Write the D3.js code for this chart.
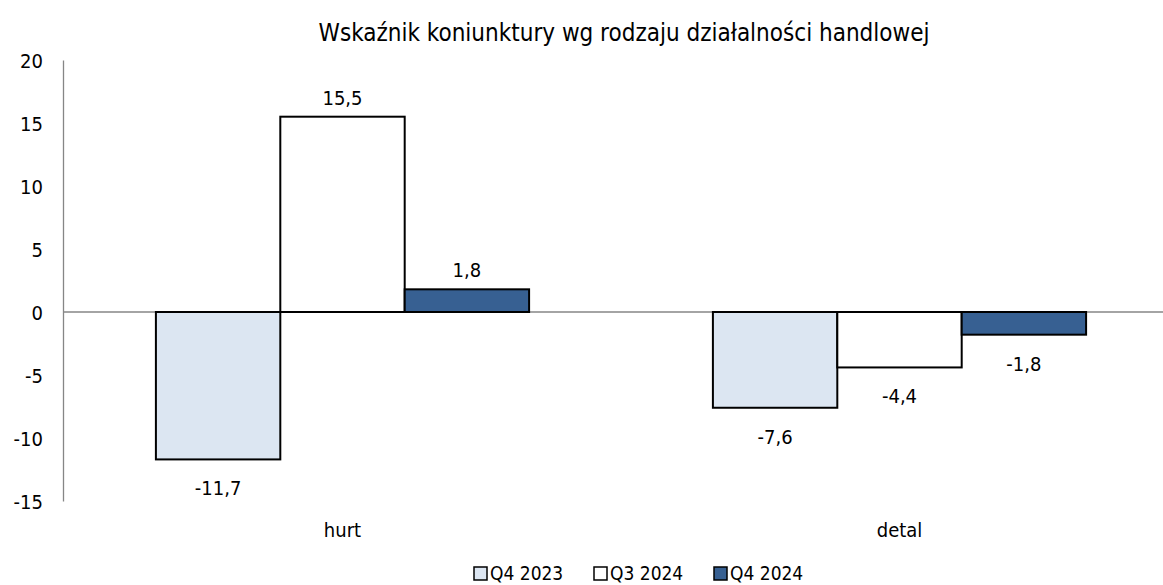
<!DOCTYPE html>
<html><head><meta charset="utf-8">
<script src="https://cdn.jsdelivr.net/npm/d3@7/dist/d3.min.js"></script>
<style>body{margin:0;background:#fff}svg text{font-family:"DejaVu Sans Condensed","DejaVu Sans",sans-serif;fill:#000}</style>
</head><body><svg id="c" width="1163" height="585"></svg>
<script>
const title = "Wskaźnik koniunktury wg rodzaju działalności handlowej";
const categories = ["hurt", "detal"];
const seriesNames = ["Q4 2023", "Q3 2024", "Q4 2024"];
const seriesColors = ["#DCE6F2", "#FFFFFF", "#376092"];
const q4_2023 = [-11.7, -7.6];
const q3_2024 = [15.5, -4.4];
const q4_2024 = [1.8, -1.8];
const yTicks = [-15, -10, -5, 0, 5, 10, 15, 20];
const seriesValues = [q4_2023, q3_2024, q4_2024];

const svg = d3.select("#c");
const fmt = v => String(v).replace(".", ",");
const y = d3.scaleLinear().domain([-15, 20]).range([501, 60]);
const x0 = d3.scaleBand().domain(categories).range([64, 1178]).paddingInner(0.33).paddingOuter(0.165);
const x1 = d3.scaleBand().domain(seriesNames).range([0, x0.bandwidth()]);

svg.append("text").attr("x", 624).attr("y", 33).attr("dy", "0.35em").attr("text-anchor", "middle")
  .style("font-size", "24px").text(title);

// y axis
const yAxis = d3.axisLeft(y).tickValues(yTicks).tickSize(0).tickPadding(20).tickFormat(d => d);
const ga = svg.append("g").attr("transform", "translate(63,0)").call(yAxis);
ga.select(".domain").attr("stroke", "#868686").attr("stroke-width", 1.3);
ga.selectAll("text").style("font-size", "20px").style("font-family", null).attr("dy", "0.35em");

// zero line
svg.append("line").attr("x1", 63).attr("x2", 1178).attr("y1", y(0)).attr("y2", y(0))
  .attr("stroke", "#868686").attr("stroke-width", 1.3);

// bars
categories.forEach((c, ci) => {
  const g = svg.append("g").attr("transform", `translate(${x0(c)},0)`);
  seriesNames.forEach((s, si) => {
    const v = seriesValues[si][ci];
    g.append("rect").attr("x", x1(s)).attr("width", x1.bandwidth())
      .attr("y", Math.min(y(v), y(0))).attr("height", Math.abs(y(v) - y(0)))
      .attr("fill", seriesColors[si]).attr("stroke", "#000").attr("stroke-width", 2);
    g.append("text").attr("x", x1(s) + x1.bandwidth() / 2)
      .attr("y", v >= 0 ? y(v) - 19 : y(v) + 29).attr("dy", "0.35em")
      .attr("text-anchor", "middle").style("font-size", "20px").text(fmt(v));
  });
  svg.append("text").attr("x", x0(c) + x0.bandwidth() / 2).attr("y", 530).attr("dy", "0.35em")
    .attr("text-anchor", "middle").style("font-size", "20px").text(c);
});

// legend
const legX = [473, 593, 713];
seriesNames.forEach((s, i) => {
  svg.append("rect").attr("x", legX[i] + 1).attr("y", 567).attr("width", 13).attr("height", 13)
    .attr("fill", seriesColors[i]).attr("stroke", "#000").attr("stroke-width", 1.5);
  svg.append("text").attr("x", legX[i] + 17).attr("y", 573).attr("dy", "0.35em")
    .style("font-size", "19px").text(s);
});
</script></body></html>
